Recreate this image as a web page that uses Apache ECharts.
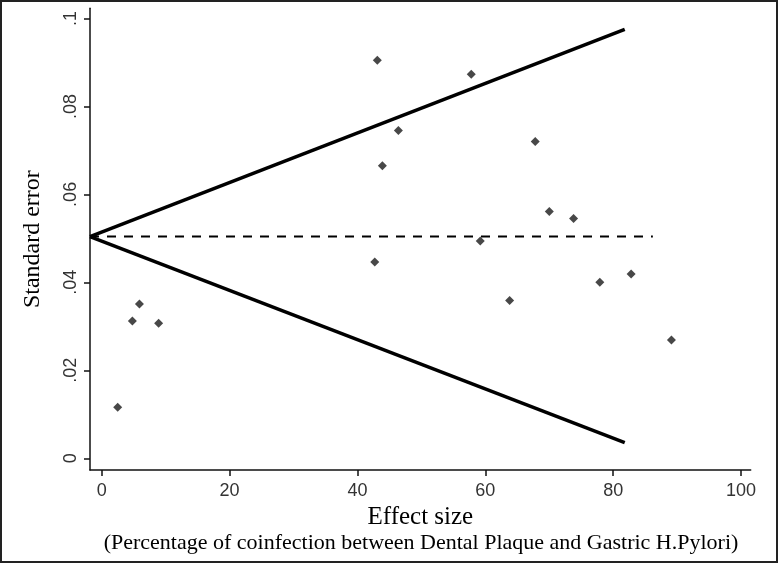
<!DOCTYPE html>
<html>
<head>
<meta charset="utf-8">
<script src="https://cdn.jsdelivr.net/npm/echarts@6/dist/echarts.min.js"></script>
<style>
html,body{margin:0;padding:0;background:#fff;}
#chart{width:778px;height:563px;}
</style>
</head>
<body>
<div id="chart"></div>
<script>
// Study points
const effectSize = [2.5, 4.8, 5.9, 8.9, 43.1, 46.4, 43.9, 42.7, 57.8, 67.8, 70.0, 73.8, 59.2, 63.8, 77.9, 82.8, 89.1];
const standardError = [0.0116, 0.0312, 0.0351, 0.0307, 0.0905, 0.0745, 0.0665, 0.0446, 0.0873, 0.0720, 0.0561, 0.0545, 0.0494, 0.0359, 0.0400, 0.0419, 0.0269];

// Funnel limits and reference line
const apexX = -1.83;
const pooledSE = 0.0504;
const funnelEndX = 81.8;
const upperEndSE = 0.0975;
const lowerEndSE = 0.00355;
const refLineEndX = 86.2;

// Axis ticks
const xTicks = [0, 20, 40, 60, 80, 100];
const yTicks = [0, 0.02, 0.04, 0.06, 0.08, 0.1];
const yTickLabels = ['0', '.02', '.04', '.06', '.08', '.1'];

const xMin = -1.83, xMax = 101.5;
const yMin = -0.00266, yMax = 0.1023;

const points = effectSize.map((x, i) => [x, standardError[i]]);

const sansFont = '"Liberation Sans", Arial, sans-serif';
const narrowFont = '"Liberation Sans Narrow", "Liberation Sans", Arial, sans-serif';
const serif = '"Liberation Serif", "Times New Roman", serif';

const chart = echarts.init(document.getElementById('chart'), null, {renderer: 'canvas'});
chart.setOption({
  animation: false,
  backgroundColor: '#fff',
  grid: {left: 90, right: 27.3, top: 8.3, bottom: 93, containLabel: false, outerBoundsMode: 'none'},
  xAxis: {
    type: 'value', min: xMin, max: xMax,
    name: 'Effect size', nameLocation: 'middle', nameGap: 32,
    nameTextStyle: {fontFamily: serif, fontSize: 25, color: '#000'},
    axisLine: {show: true, onZero: false, lineStyle: {color: '#111', width: 1.5}},
    axisTick: {show: true, length: 6, customValues: xTicks, lineStyle: {color: '#111', width: 1.5}},
    axisLabel: {customValues: xTicks, margin: 12, fontFamily: sansFont, fontSize: 18, color: '#333'},
    splitLine: {show: false}
  },
  yAxis: {
    type: 'value', min: yMin, max: yMax,
    name: 'Standard error', nameLocation: 'middle', nameGap: 45, nameRotate: 90,
    nameTextStyle: {fontFamily: serif, fontSize: 24, color: '#000'},
    axisLine: {show: true, onZero: false, lineStyle: {color: '#111', width: 1.5}},
    axisTick: {show: true, length: 6, customValues: yTicks, lineStyle: {color: '#111', width: 1.5}},
    axisLabel: {
      customValues: yTicks, rotate: 90, margin: 10,
      fontFamily: narrowFont, fontSize: 18, color: '#333',
      formatter: function (v) {
        const i = yTicks.findIndex(t => Math.abs(t - v) < 1e-9);
        return i >= 0 ? yTickLabels[i] : '';
      }
    },
    splitLine: {show: false}
  },
  graphic: [
    {type: 'text', x: 421, y: 543,
     style: {text: '(Percentage of coinfection between Dental Plaque and Gastric H.Pylori)',
             font: '22px ' + serif, fill: '#000', align: 'center', verticalAlign: 'middle'}},
    {type: 'rect', shape: {x: 1, y: 1, width: 776, height: 561},
     style: {fill: 'none', stroke: '#222', lineWidth: 2}, z: 100}
  ],
  series: [
    {type: 'line', data: [[apexX, pooledSE], [funnelEndX, upperEndSE]], symbol: 'none',
     lineStyle: {color: '#000', width: 3.5}, silent: true},
    {type: 'line', data: [[apexX, pooledSE], [funnelEndX, lowerEndSE]], symbol: 'none',
     lineStyle: {color: '#000', width: 3.5}, silent: true},
    {type: 'line', data: [[apexX, pooledSE], [refLineEndX, pooledSE]], symbol: 'none',
     lineStyle: {color: '#000', width: 2, type: [9, 8]}, silent: true},
    {type: 'scatter', data: points, symbol: 'diamond', symbolSize: 9,
     itemStyle: {color: '#1a1a1a'}}
  ]
});
</script>
</body>
</html>
